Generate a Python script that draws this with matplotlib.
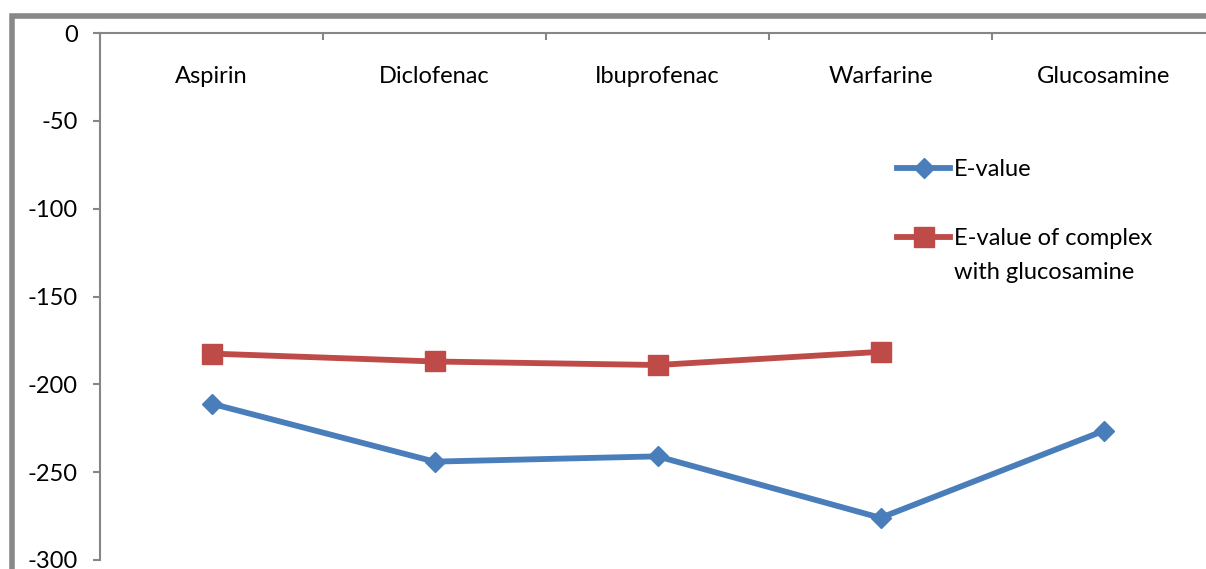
import matplotlib.pyplot as plt
from matplotlib.lines import Line2D
from matplotlib.patches import Rectangle

# Datos
farmacos = ['Aspirin', 'Diclofenac', 'Ibuprofenac', 'Warfarine', 'Glucosamine']
e_value = [-211, -244, -241, -276, -226.5]
e_value_complejo = [-182.5, -187, -189, -181.5]
yticks = [0, -50, -100, -150, -200, -250, -300]

azul = '#4A7EBB'
rojo = '#BE4B48'
gris = '#868686'

plt.rcParams['font.family'] = ['Lato', 'DejaVu Sans']

fig = plt.figure(figsize=(12.06, 5.69), dpi=100)
W, H = 1206, 569
ax = fig.add_axes([100 / W, 1 - 560 / H, 1115 / W, 527 / H])

estilo_azul = dict(color=azul, lw=4.2, marker='D', ms=10.5, solid_joinstyle='round')
estilo_rojo = dict(color=rojo, lw=4.2, marker='s', ms=14, solid_joinstyle='round')

x = [i + 0.5 for i in range(len(farmacos))]
ax.plot(x, e_value, **estilo_azul)
ax.plot(x[:len(e_value_complejo)], e_value_complejo, **estilo_rojo)

ax.set_xlim(0, len(farmacos))
ax.set_ylim(-300, 0)

# eje de categorias arriba, marcas hacia dentro
ax.xaxis.tick_top()
ax.set_xticks(range(len(farmacos) + 1))
ax.set_xticklabels([])
ax.tick_params(axis='x', direction='in', length=5, width=1.5, color=gris)
for xi, nombre in zip(x, farmacos):
    ax.text(xi, 0.918, nombre, transform=ax.get_xaxis_transform(),
            ha='center', va='center', fontsize=17)

ax.set_yticks(yticks)
ax.set_yticklabels([str(v) for v in yticks], fontsize=17)
ax.tick_params(axis='y', direction='out', length=5, width=1.5, color=gris, pad=11)

for lado in ['bottom', 'right']:
    ax.spines[lado].set_visible(False)
for lado in ['left', 'top']:
    ax.spines[lado].set_color(gris)
    ax.spines[lado].set_linewidth(1.5)

# leyenda hecha a mano (la segunda etiqueta ocupa dos lineas)
def fx(px):
    return px / W

def fy(py):
    return 1 - py / H

entradas = [(168, estilo_azul, 'E-value'),
            (237, estilo_rojo, 'E-value of complex\nwith glucosamine')]
for py, estilo, texto in entradas:
    fig.add_artist(Line2D([fx(897), fx(950)], [fy(py), fy(py)], color=estilo['color'],
                          lw=estilo['lw'], transform=fig.transFigure))
    fig.add_artist(Line2D([fx(923.5)], [fy(py)], color=estilo['color'], marker=estilo['marker'],
                          ms=estilo['ms'], transform=fig.transFigure))
    fig.text(fx(954), fy(py - 9), texto, ha='left', va='top', fontsize=17,
             linespacing=1.75)

# marco exterior gris
fig.add_artist(Rectangle((12 / W, -0.2), 1.2, 1.2 - 16 / H, transform=fig.transFigure,
                         fill=False, edgecolor='#888888', lw=4))

plt.savefig('out.png', dpi=100)
